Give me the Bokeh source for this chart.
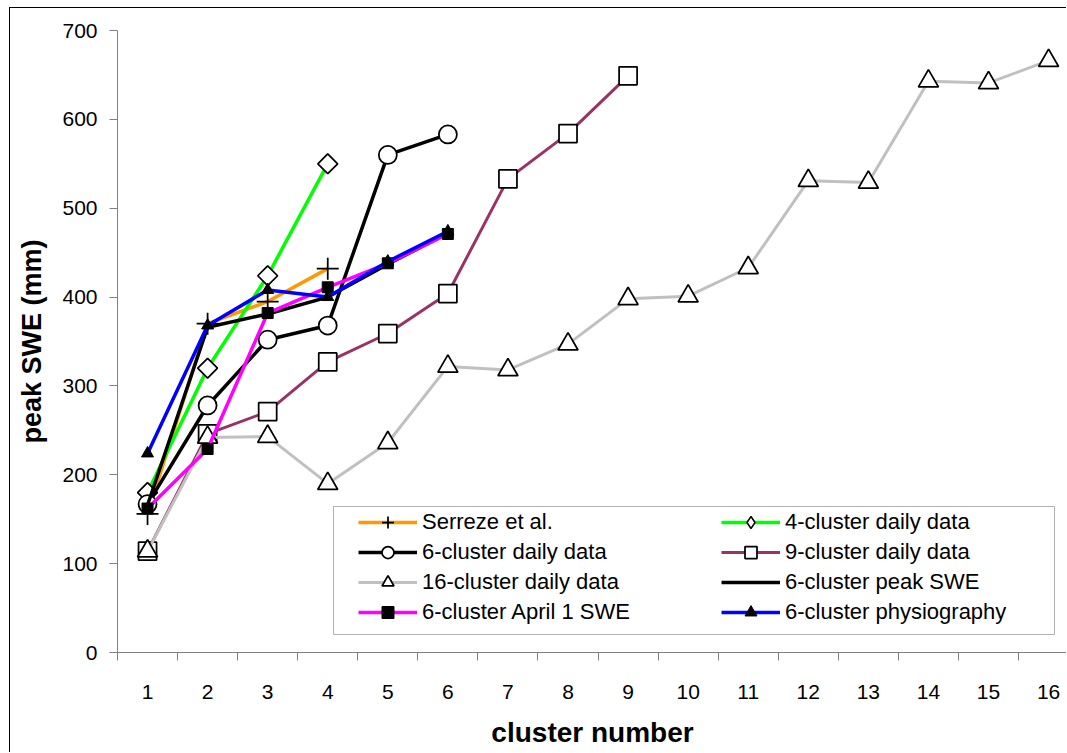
import numpy as np
from bokeh.plotting import figure
from bokeh.models import (ColumnDataSource, FixedTicker, Legend, LegendItem,
                          BoxAnnotation, Range1d, CDSView, IndexFilter)
from bokeh.embed import file_html
from bokeh.resources import INLINE

# ---------------- data ----------------
tick_labels = [str(i) for i in range(1, 17)]
y_ticks = [0, 100, 200, 300, 400, 500, 600, 700]

serreze = [156, 370, 395, 432]
cluster4_daily = [180, 320, 424, 550]
cluster6_daily = [167, 278, 352, 368, 560, 583]
cluster9_daily = [114, 246, 271, 327, 359, 404, 533, 584, 649]
cluster16_daily = [114, 242, 243, 190, 236, 322, 318, 347, 398, 401, 433,
                   531, 529, 643, 641, 666]
cluster6_peak = [166, 366, 381, 400, 437, 472]
cluster6_april1 = [162, 229, 382, 411, 438, 471]
cluster6_phys = [224, 368, 408, 400, 440, 474]

series = [
    # label, values, line colour, line width, marker, size, fill, angle, legend marker
    ("Serreze et al.", serreze, "#FF9900", 3.5, "cross", 22, None, 0, "cross"),
    ("4-cluster daily data", cluster4_daily, "#00FF00", 3.5, "square", 14, "white", np.pi / 4, "diamond"),
    ("6-cluster daily data", cluster6_daily, "black", 3.5, "circle", 18, "white", 0, "circle"),
    ("9-cluster daily data", cluster9_daily, "#993366", 3.0, "square", 18, "white", 0, "square"),
    ("16-cluster daily data", cluster16_daily, "#C0C0C0", 3.0, "triangle", 20, "white", 0, "triangle"),
    ("6-cluster peak SWE", cluster6_peak, "black", 3.5, None, 0, None, 0, None),
    ("6-cluster April 1 SWE", cluster6_april1, "#FF00FF", 3.5, "square", 11, "black", 0, "square"),
    ("6-cluster physiography", cluster6_phys, "#0000FF", 3.5, "triangle", 12, "black", 0, "triangle"),
]

FONT = "Liberation Sans"
AXIS_GRAY = "#808080"
OX, OY = 10, 8   # where the figure's canvas starts inside the page (after the chart border)

p = figure(width=1057, height=745,
           x_range=Range1d(0.5, 16.315), y_range=Range1d(0, 700),
           output_backend="svg", toolbar_location=None,
           min_border_left=107, min_border_right=0,
           min_border_top=22, min_border_bottom=101)
p.styles = {"margin-left": "9px", "margin-top": "7px",
            "border-left": "1px solid black", "border-top": "1px solid black"}
p.grid.visible = False
p.outline_line_color = None
p.background_fill_color = "white"
p.border_fill_color = "white"

renderers = {}
for label, vals, col, lw, marker, size, fill, ang, lmarker in series:
    xs = list(range(1, len(vals) + 1))
    src = ColumnDataSource(dict(x=xs, y=vals))
    line_r = p.line("x", "y", source=src, line_color=col, line_width=lw)
    leg_rs = [line_r]
    if marker is not None:
        mlw = 1.75 if fill != "black" else 1.0
        if lmarker != marker:
            # legend sample shape; its single plotted copy is hidden under the real marker
            leg_m = p.scatter("x", "y", source=src, marker=lmarker, size=12,
                              fill_color=fill, line_color="black", line_width=1.5,
                              view=CDSView(filter=IndexFilter(indices=[0])))
        sc = p.scatter("x", "y", source=src, marker=marker, size=size,
                       angle=ang, fill_color=fill, line_color="black", line_width=mlw)
        leg_rs.append(sc if lmarker == marker else leg_m)
    renderers[label] = leg_rs

# axes
xax = p.xaxis[0]
xax.ticker = FixedTicker(ticks=list(range(1, 17)),
                         minor_ticks=[i + 0.5 for i in range(0, 17)])
xax.major_label_overrides = {i + 1: t for i, t in enumerate(tick_labels)}
xax.major_tick_line_color = None
xax.major_tick_out = 0
xax.major_tick_in = 0
xax.minor_tick_out = 8
xax.minor_tick_in = 0
xax.minor_tick_line_color = AXIS_GRAY
xax.axis_line_color = AXIS_GRAY
xax.major_label_text_font = FONT
xax.major_label_text_font_size = "21px"
xax.major_label_text_color = "black"
xax.major_label_standoff = 24
xax.axis_label = "cluster number"
xax.axis_label_text_font = FONT
xax.axis_label_text_font_size = "28px"
xax.axis_label_text_font_style = "bold"
xax.axis_label_text_color = "black"
xax.axis_label_standoff = 15

yax = p.yaxis[0]
yax.ticker = FixedTicker(ticks=y_ticks)
yax.major_tick_out = 8
yax.major_tick_in = 0
yax.minor_tick_line_color = None
yax.major_tick_line_color = AXIS_GRAY
yax.axis_line_color = AXIS_GRAY
yax.major_label_text_font = FONT
yax.major_label_text_font_size = "21px"
yax.major_label_text_color = "black"
yax.major_label_standoff = 12
yax.axis_label = "peak SWE (mm)"
yax.axis_label_text_font = FONT
yax.axis_label_text_font_size = "27px"
yax.axis_label_text_font_style = "bold"
yax.axis_label_text_color = "black"
yax.axis_label_standoff = 12

# legend box
p.add_layout(BoxAnnotation(left=332 - OX, right=1053 - OX, top=505 - OY, bottom=633 - OY,
                           left_units="canvas", right_units="canvas",
                           top_units="canvas", bottom_units="canvas",
                           fill_color="white", fill_alpha=1.0,
                           line_color="black", line_width=1))

col_a = ["Serreze et al.", "6-cluster daily data", "16-cluster daily data",
         "6-cluster April 1 SWE"]
col_b = ["4-cluster daily data", "9-cluster daily data", "6-cluster peak SWE",
         "6-cluster physiography"]


def make_legend(names, loc):
    return Legend(items=[LegendItem(label=n, renderers=renderers[n]) for n in names],
                  location=loc, orientation="vertical",
                  border_line_color=None, background_fill_alpha=0,
                  padding=0, margin=0, spacing=0,
                  glyph_width=59, glyph_height=30, label_height=30,
                  label_standoff=5, label_text_font=FONT,
                  label_text_font_size="22px", label_text_color="black")


p.add_layout(make_legend(col_a, (241, 25)))
p.add_layout(make_legend(col_b, (604, 25)))

open("out.html", "w").write(file_html(p, INLINE))
